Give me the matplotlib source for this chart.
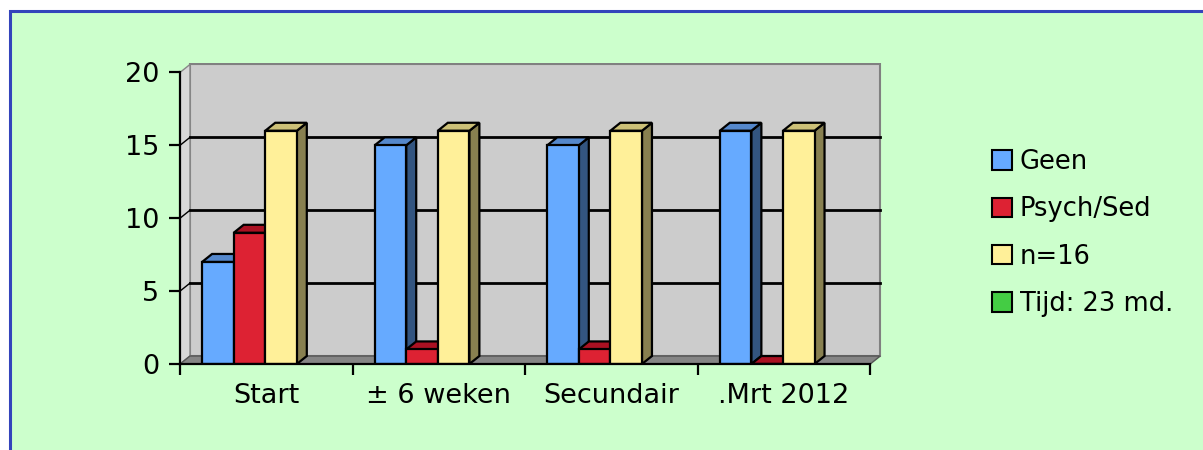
import matplotlib.pyplot as plt
import numpy as np
from matplotlib.patches import Polygon, Rectangle, Patch

# data
categories = ['Start', '\u00b1 6 weken', 'Secundair', '.Mrt 2012']
series_names = ['Geen', 'Psych/Sed', 'n=16', 'Tijd: 23 md.']
geen = [7, 15, 15, 16]
psych_sed = [9, 1, 1, 0]
n16 = [16, 16, 16, 16]
tijd = [np.nan, np.nan, np.nan, np.nan]
values = [geen, psych_sed, n16, tijd]

front_cols = ['#66AAFF', '#DD2233', '#FFF099', '#44CC44']
top_cols = ['#5588CC', '#AA1122', '#CCC077', '#33AA33']
side_cols = ['#335580', '#881122', '#888050', '#228822']

W, H = 1203, 450
fig = plt.figure(figsize=(W / 100, H / 100), dpi=100)
fig.patch.set_facecolor('white')
# green panel with blue frame
fig.patches.append(Rectangle((10 / W, -0.1), 1.2, (H - 11) / H + 0.1,
                             transform=fig.transFigure, facecolor='#CCFFCC',
                             edgecolor='#3344BB', linewidth=2.2, zorder=-10))

ymax = 20
ncat = len(categories)
dx = 10 / 173.0     # depth in x units
dy = 8 / 14.6       # depth in y units

ax = fig.add_axes([180 / W, 86 / H, (882 - 180) / W, (364 - 63) / H])
ax.set_xlim(0, ncat + dx + 0.01)
ax.set_ylim(0, ymax + dy + 0.1)
ax.patch.set_alpha(0)

# walls and floor
ax.add_patch(Polygon([(dx, dy), (ncat + dx, dy), (ncat + dx, ymax + dy), (dx, ymax + dy)],
                     closed=True, facecolor='#CCCCCC', edgecolor='#808080', lw=1.5, zorder=1))
ax.add_patch(Polygon([(0, 0), (dx, dy), (dx, ymax + dy), (0, ymax)],
                     closed=True, facecolor='#D8D8D8', edgecolor='#888888', lw=1, zorder=1))
ax.add_patch(Polygon([(0, 0), (ncat, 0), (ncat + dx, dy), (dx, dy)],
                     closed=True, facecolor='#858585', edgecolor='#555555', lw=1, zorder=1))
for yv in range(5, ymax, 5):
    ax.plot([dx, ncat + dx], [yv + dy, yv + dy], color='black', lw=2, zorder=2)
    ax.plot([0, dx], [yv, yv + dy], color='black', lw=1, zorder=2)

# 3d-looking bars
w = 0.183
gap = 0.128
z = 3
for i in range(ncat):
    for j, vals in enumerate(values):
        v = vals[i]
        if np.isnan(v):
            continue
        x0 = i + gap + j * w
        x1 = x0 + w
        ax.add_patch(Polygon([(x1, 0), (x1 + dx, dy), (x1 + dx, v + dy), (x1, v)],
                             closed=True, facecolor=side_cols[j], edgecolor='black',
                             lw=1.6, zorder=z))
        ax.add_patch(Polygon([(x0, v), (x1, v), (x1 + dx, v + dy), (x0 + dx, v + dy)],
                             closed=True, facecolor=top_cols[j], edgecolor='black',
                             lw=1.6, zorder=z))
        ax.bar(x0, v, width=w, align='edge', color=front_cols[j], edgecolor='black',
               linewidth=1.6, zorder=z + 0.5)
        z += 1

# axes
for s in ['top', 'right']:
    ax.spines[s].set_visible(False)
ax.spines['left'].set_bounds(0, ymax)
ax.spines['bottom'].set_bounds(0, ncat)
ax.spines['left'].set_linewidth(1.6)
ax.spines['bottom'].set_linewidth(1.6)
ax.spines['left'].set_zorder(50)
ax.spines['bottom'].set_zorder(50)

ax.set_yticks(range(0, ymax + 1, 5))
ax.tick_params(axis='y', length=8, width=1.6, pad=7, labelsize=19.5)
ax.set_xticks(range(ncat + 1))
ax.set_xticklabels([])
ax.set_xticks(np.arange(ncat) + 0.5, minor=True)
ax.set_xticklabels(categories, minor=True)
ax.tick_params(axis='x', which='major', length=8, width=1.6)
ax.tick_params(axis='x', which='minor', length=0, pad=14, labelsize=19.5)

handles = [Patch(facecolor=front_cols[j], edgecolor='black', linewidth=1.5)
           for j in range(len(series_names))]
fig.legend(handles, series_names, loc='center left',
           bbox_to_anchor=(992 / W, (H - 233) / H), frameon=False,
           fontsize=18.5, handlelength=0.78, handleheight=0.78,
           handletextpad=0.3, labelspacing=0.83, borderpad=0, borderaxespad=0)

plt.savefig('out.png', dpi=100)
